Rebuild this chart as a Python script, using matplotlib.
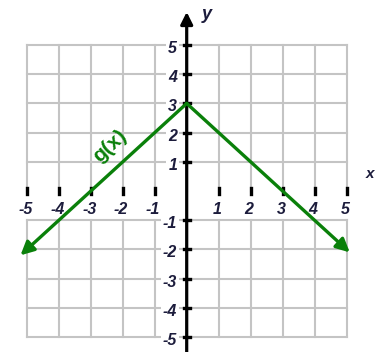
"""
Graph of g(x) = -|x| + 3 on a coordinate grid
"""
import matplotlib
matplotlib.use("Agg")
import matplotlib.pyplot as plt

# tick values on both axes
x_ticks = [-5, -4, -3, -2, -1, 1, 2, 3, 4, 5]
y_ticks = [-5, -4, -3, -2, -1, 1, 2, 3, 4, 5]

# grid extent
grid_min, grid_max = -5, 5

# g(x): left arrow tip, vertex, right arrow tip
g_x = [-5.2, 0, 5.1]
g_y = [-2.2, 3, -2.1]

green = '#0a800a'
grid_col = '#c4c4c4'
txt_col = '#1c1c3c'

fig = plt.figure(figsize=(3.75, 3.52), dpi=100)
ax = fig.add_axes([0, 0, 1, 1])
ax.set_xlim(-5.84, 5.89)
ax.set_ylim(-5.51, 6.54)
ax.axis('off')

# grid: upper block y in [0,5], lower block y in [-5,-1]
for v in range(grid_min, grid_max + 1):
    ax.plot([v, v], [0, grid_max], color=grid_col, lw=1.5, zorder=1)
    ax.plot([v, v], [grid_min, -1], color=grid_col, lw=1.5, zorder=1)
for h in y_ticks:
    ax.plot([grid_min, grid_max], [h, h], color=grid_col, lw=1.5, zorder=1)

# axes with arrows
ax.annotate('', xy=(0, 6.13), xytext=(0, -5.6),
            arrowprops=dict(arrowstyle='-|>', color='black', lw=2.3,
                            mutation_scale=18, shrinkA=0, shrinkB=0), zorder=3)
ax.annotate('', xy=(5.97, 0), xytext=(-5.47, 0),
            arrowprops=dict(arrowstyle='-|>', color='black', lw=2.3,
                            mutation_scale=18, shrinkA=0, shrinkB=0), zorder=3)

# tick marks
for t in x_ticks:
    ax.plot([t, t], [-0.1, 0.1], color='black', lw=2.4, zorder=3)
for t in y_ticks:
    ax.plot([-0.1, 0.1], [t, t], color='black', lw=2.4, zorder=3)

# tick labels
lab = dict(fontsize=11.5, style='italic', weight='bold', color=txt_col,
           family='Liberation Sans')
for t in x_ticks:
    ax.text(t - 0.05, -0.64, str(t), ha='center', va='center', zorder=2, **lab)
for t in y_ticks:
    ax.text(-0.3, t - 0.12, str(t), ha='right', va='center', zorder=2,
            bbox=dict(boxstyle='square,pad=0.12', fc='white', ec='none'), **lab)

ax.text(0.64, 6.03, 'y', ha='center', va='center', fontsize=13,
        style='italic', weight='bold', color=txt_col, family='Liberation Sans')
ax.text(5.74, 0.58, 'x', ha='center', va='center', fontsize=11,
        style='italic', weight='bold', color=txt_col, family='Liberation Sans')

# g(x) line with arrowheads at both ends
for i in (0, 2):
    ax.annotate('', xy=(g_x[i], g_y[i]), xytext=(g_x[1], g_y[1]),
                arrowprops=dict(arrowstyle='-|>', color=green, lw=2.4,
                                mutation_scale=20, shrinkA=0, shrinkB=0),
                zorder=4)

ax.text(-2.4, 1.55, 'g(x)', ha='center', va='center', fontsize=15,
        rotation=42.4, color=green, weight='bold', family='Liberation Sans',
        zorder=4)

fig.savefig('out.png', dpi=100)
